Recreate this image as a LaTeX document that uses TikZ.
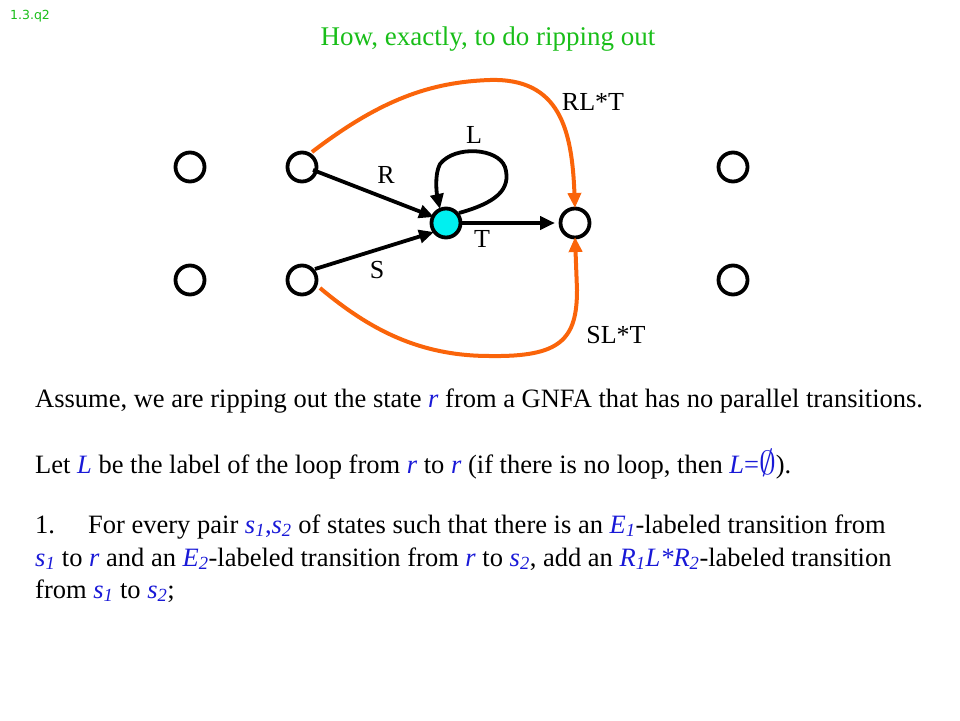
\documentclass[tikz,border=0pt]{standalone}
\usepackage{fontspec}
\setmainfont{Liberation Serif}
\newfontfamily\tahoma{DejaVu Sans}
\usetikzlibrary{arrows.meta}
\definecolor{ttgreen}{RGB}{25,190,25}
\definecolor{ttblue}{RGB}{25,25,215}
\definecolor{ttorange}{RGB}{250,100,10}
\definecolor{ttcyan}{RGB}{0,240,240}
\newcommand{\bl}[1]{\textcolor{ttblue}{\textit{#1}}}
\newcommand{\sbs}[1]{\textcolor{ttblue}{\textsubscript{\textit{#1}}}}
\begin{document}
\begin{tikzpicture}[x=1pt,y=-1pt,
  state/.style={circle,draw=black,line width=3.8pt,minimum size=29pt,inner sep=0pt,fill=white},
  blk/.style={line width=3.8pt,-{Triangle[length=15pt,width=13pt]}},
  org/.style={line width=4pt,ttorange,-{Triangle[length=15pt,width=13pt]}},
  lab/.style={font=\fontsize{26}{26}\selectfont,inner sep=0pt},
  body/.style={anchor=base west,inner sep=0pt,font=\fontsize{26.5}{30}\selectfont}]
\useasboundingbox (0,0) rectangle (960,720);
% nodes
\node[state] (a1) at (190,167) {};
\node[state] (s1) at (302,167) {};
\node[state] (a2) at (190,280) {};
\node[state] (s2) at (302,280) {};
\node[state] (t) at (575,223) {};
\node[state] (b1) at (733,167) {};
\node[state] (b2) at (733,280) {};
% coordinates
\coordinate (rS) at (313,170);
\coordinate (sS) at (315,269);
\coordinate (rtip) at (434,217);
\coordinate (stip) at (434,232);
\coordinate (tS) at (462,223);
\coordinate (ttip) at (555,223);
\coordinate (lS) at (459,213);
\coordinate (ltip) at (440,209);
\coordinate (o1S) at (312,152);
\coordinate (o1M) at (490,80);
\coordinate (o1T) at (575,208);
\coordinate (o2S) at (320,288);
\coordinate (o2M) at (490,356);
\coordinate (o2T) at (575,237);
% connectors
\draw[blk] (rS) -- (rtip);
\draw[blk] (sS) -- (stip);
\draw[blk] (tS) -- (ttip);
\draw[blk] (lS) .. controls (495,203) and (512,190) .. (505,167) .. controls (498,148) and (455,145) .. (440,164) .. controls (434,175) and (437,195) .. (ltip);
\draw[org] (o1S) .. controls (380,100) and (430,82) .. (o1M) .. controls (560,78) and (572,130) .. (o1T);
\draw[org] (o2S) .. controls (370,330) and (420,356) .. (o2M) .. controls (560,357) and (577,340) .. (577,290) -- (o2T);
\node[state,fill=ttcyan] (r) at (446,223) {};
% labels
\node[lab] (lRLT) at (593,102) {RL*T};
\node[lab] (lL) at (474,135) {L};
\node[lab] (lR) at (386,175) {R};
\node[lab] (lT) at (482,239) {T};
\node[lab] (lS) at (377,270) {S};
\node[lab] (lSLT) at (616,335) {SL*T};
% header
\node[anchor=base west,inner sep=0pt,text=ttgreen,font=\tahoma\fontsize{12.5}{12}\selectfont] (code) at (10,19) {1.3.q2};
\node[anchor=base,inner sep=0pt,text=ttgreen,font=\fontsize{27}{27}\selectfont] (title) at (488,45) {How, exactly, to do ripping out};
% body
\node[body] (p1) at (35,407) {Assume, we are ripping out the state \bl{r} from a GNFA that has no parallel transitions.};
\node[body] (p2) at (35,473) {Let \bl{L} be the label of the loop from \bl{r} to \bl{r} (if there is no loop, then \bl{L}\textcolor{ttblue}{=\raisebox{-0.05em}{\scalebox{1.35}{$\emptyset$}}}).};
\node[body] (p3a) at (35,533) {1.};
\node[body] (p3) at (88,533) {For every pair \bl{s}\sbs{1}\textcolor{ttblue}{,}\bl{s}\sbs{2} of states such that there is an \bl{E}\sbs{1}-labeled transition from};
\node[body] (p4) at (35,566) {\bl{s}\sbs{1} to \bl{r} and an \bl{E}\sbs{2}-labeled transition from \bl{r} to \bl{s}\sbs{2}, add an \bl{R}\sbs{1}\bl{L*R}\sbs{2}-labeled transition};
\node[body] (p5) at (35,598) {from \bl{s}\sbs{1} to \bl{s}\sbs{2};};
\end{tikzpicture}
\end{document}
